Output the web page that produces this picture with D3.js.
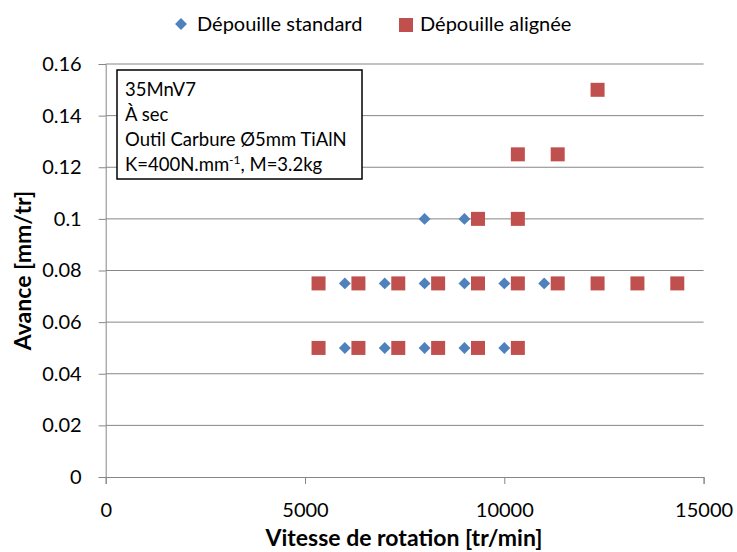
<!DOCTYPE html>
<html>
<head>
<meta charset="utf-8">
<script src="https://cdn.jsdelivr.net/npm/d3@7"></script>
<style>
  body { margin: 0; background: #fff; }
  text { font-family: Lato, "Open Sans", sans-serif; fill: #000; }
</style>
</head>
<body>
<div id="chart"></div>
<script>
// vitesse de rotation [tr/min] / avance [mm/tr]
const standardSpeed = [6000, 7000, 8000, 9000, 10000,
	6000, 7000, 8000, 9000, 10000, 11000,
	8000, 9000];
const standardFeed = [0.05, 0.05, 0.05, 0.05, 0.05,
	0.075, 0.075, 0.075, 0.075, 0.075, 0.075,
	0.1, 0.1];

const alignedSpeed = [5340, 6340, 7340, 8340, 9340, 10340,
	5340, 6340, 7340, 8340, 9340, 10340, 11340, 12340, 13340, 14340,
	9340, 10340,
	10340, 11340,
	12340];
const alignedFeed = [0.05, 0.05, 0.05, 0.05, 0.05, 0.05,
	0.075, 0.075, 0.075, 0.075, 0.075, 0.075, 0.075, 0.075, 0.075, 0.075,
	0.1, 0.1,
	0.125, 0.125,
	0.15];

const xTicks = [0, 5000, 10000, 15000];
const yTicks = [0, 0.02, 0.04, 0.06, 0.08, 0.1, 0.12, 0.14, 0.16];

const seriesNames = ["Dépouille standard", "Dépouille alignée"];
const boxLines = ["35MnV7", "À sec", "Outil Carbure Ø5mm TiAlN"];

const W = 737, H = 552;
const blue = "#4f81bd", red = "#c0504d", grey = "#868686";

const svg = d3.select("#chart").append("svg")
	.attr("width", W)
	.attr("height", H);

const x = d3.scaleLinear().domain([0, 15000]).range([105.7, 703.6]);
const y = d3.scaleLinear().domain([0, 0.16]).range([477, 64]);

// gridlines
svg.append("g")
	.selectAll("line")
	.data(yTicks.filter(d => d > 0))
	.enter().append("line")
	.attr("x1", x(0)).attr("x2", x(15000))
	.attr("y1", d => y(d)).attr("y2", d => y(d))
	.attr("stroke", grey).attr("stroke-width", 1);

const xAxis = svg.append("g")
	.attr("transform", `translate(0,${y(0)})`)
	.call(d3.axisBottom(x).tickValues(xTicks).tickSize(7).tickPadding(19).tickFormat(d3.format("d")));

const yAxis = svg.append("g")
	.attr("transform", `translate(${x(0)},0)`)
	.call(d3.axisLeft(y).tickValues(yTicks).tickSize(7).tickPadding(17).tickFormat(d => d === 0 ? "0" : String(+d.toFixed(2))));

[xAxis, yAxis].forEach(ax => {
	ax.select(".domain").attr("stroke", grey);
	ax.selectAll(".tick line").attr("stroke", grey);
	ax.selectAll(".tick text")
		.style("font-family", "Lato, sans-serif")
		.style("font-size", "20px")
		.attr("fill", "#000");
});

// axis titles
svg.append("text")
	.attr("x", 404)
	.attr("y", 546)
	.attr("text-anchor", "middle")
	.style("font-size", "23px")
	.style("font-weight", "bold")
	.text("Vitesse de rotation [tr/min]");

svg.append("text")
	.attr("transform", `translate(31,${(y(0) + y(0.16)) / 2}) rotate(-90)`)
	.attr("text-anchor", "middle")
	.style("font-size", "23px")
	.style("font-weight", "bold")
	.text("Avance [mm/tr]");

// points
const diamond = d3.symbol().type(d3.symbolDiamond2).size(90);

svg.append("g")
	.selectAll("path")
	.data(standardSpeed.map((s, i) => [s, standardFeed[i]]))
	.enter().append("path")
	.attr("d", diamond)
	.attr("transform", d => `translate(${x(d[0])},${y(d[1])})`)
	.attr("fill", blue);

const sq = 14;
svg.append("g")
	.selectAll("rect")
	.data(alignedSpeed.map((s, i) => [s, alignedFeed[i]]))
	.enter().append("rect")
	.attr("x", d => x(d[0]) - sq / 2)
	.attr("y", d => y(d[1]) - sq / 2)
	.attr("width", sq).attr("height", sq)
	.attr("fill", red);

// text box
const box = svg.append("g");
box.append("rect")
	.attr("x", 117).attr("y", 70)
	.attr("width", 245).attr("height", 109)
	.attr("fill", "#fff").attr("stroke", "#000").attr("stroke-width", 1.5);

boxLines.forEach((t, i) => {
	box.append("text")
		.attr("x", 125).attr("y", 96 + i * 25)
		.style("font-size", "18.5px")
		.text(t);
});
const kLine = box.append("text")
	.attr("x", 125).attr("y", 96 + 3 * 25)
	.style("font-size", "18.5px");
kLine.append("tspan").text("K=400N.mm");
kLine.append("tspan").attr("dy", -7).style("font-size", "12px").text("-1");
kLine.append("tspan").attr("dy", 7).text(", M=3.2kg");

// legend
const legend = svg.append("g");
legend.append("path")
	.attr("d", diamond)
	.attr("transform", "translate(181,24)")
	.attr("fill", blue);
legend.append("text")
	.attr("x", 197).attr("y", 31)
	.style("font-size", "20px")
	.text(seriesNames[0]);
legend.append("rect")
	.attr("x", 399).attr("y", 18)
	.attr("width", sq).attr("height", sq)
	.attr("fill", red);
legend.append("text")
	.attr("x", 420).attr("y", 31)
	.style("font-size", "20px")
	.text(seriesNames[1]);
</script>
</body>
</html>
